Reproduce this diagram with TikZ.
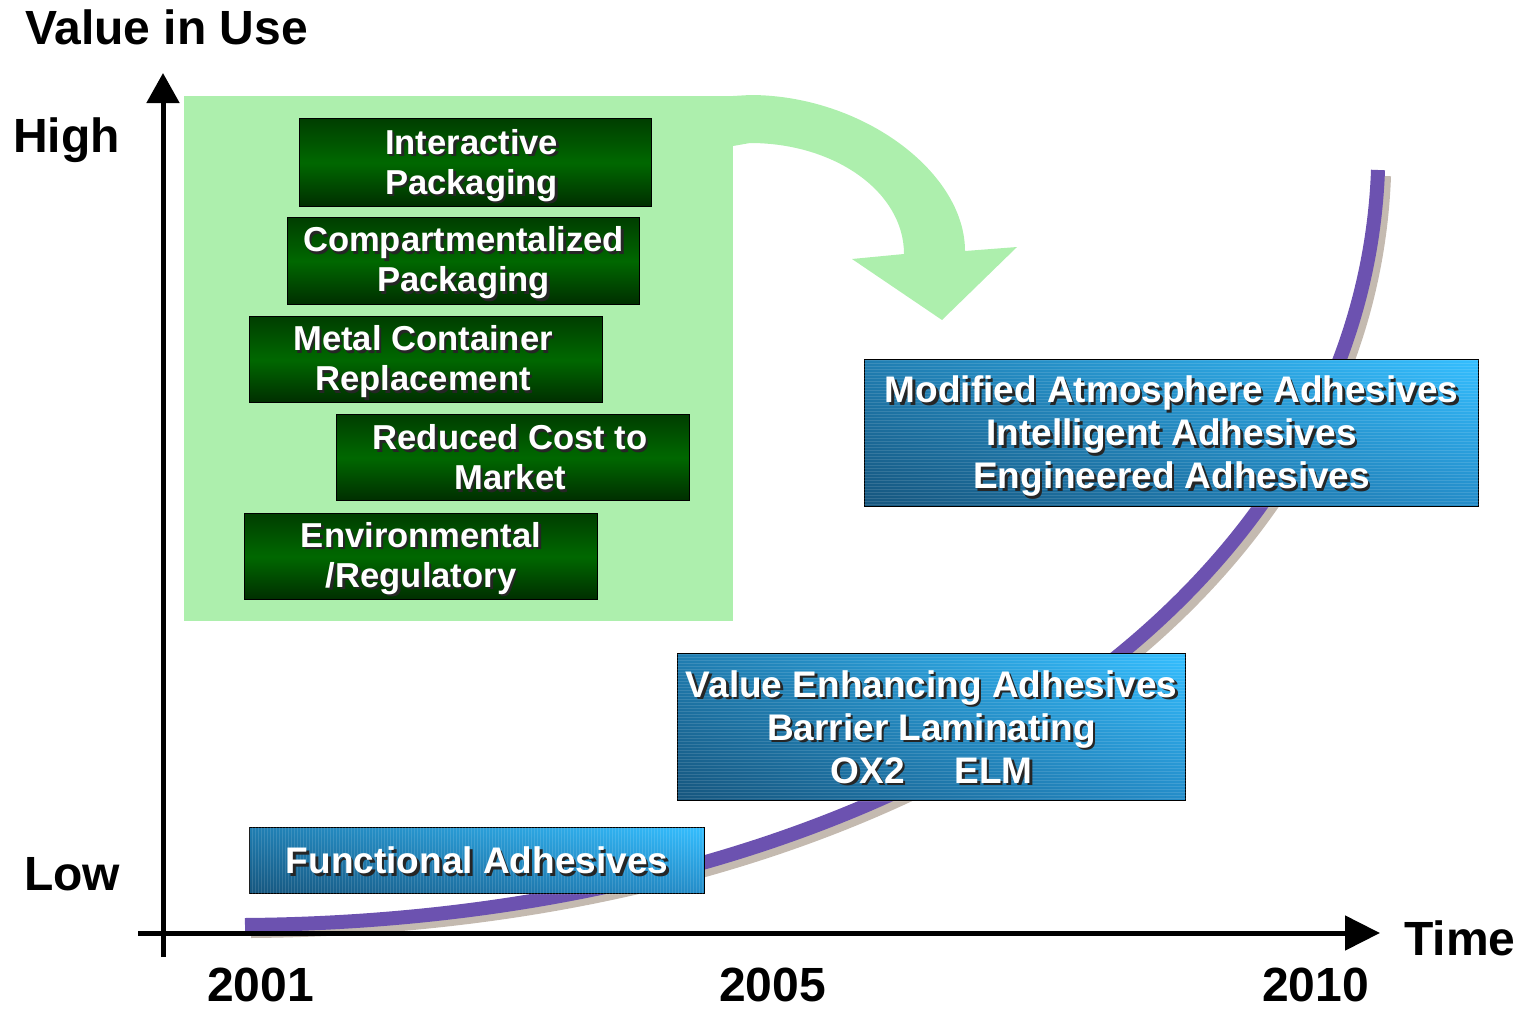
\documentclass[tikz,border=0pt]{standalone}
\usepackage{fontspec}
\setmainfont{Liberation Sans}
\usetikzlibrary{arrows.meta,patterns,shadings}
\definecolor{bggreen}{RGB}{173,239,173}
\definecolor{gtop}{RGB}{0,62,0}
\definecolor{gmid}{RGB}{0,104,0}
\definecolor{gbot}{RGB}{0,46,0}
\definecolor{curvepurple}{RGB}{108,82,176}
\definecolor{curveshadow}{RGB}{196,186,176}
\definecolor{bll}{RGB}{22,86,126}
\definecolor{bul}{RGB}{32,126,178}
\definecolor{blr}{RGB}{36,140,200}
\definecolor{bur}{RGB}{52,190,255}
% #1 options, #2 name, #3 box node, #4 offset, #5 text
\newcommand\shtxt[5][]{%
  \node[boxtext,#1,text=black!85] (#2s) at ([shift={(#4)},shift={(2.5,2.5)}]#3.center) {#5};
  \node[boxtext,#1,text=white] (#2) at ([shift={(#4)}]#3.center) {#5};}
\begin{document}
\begin{tikzpicture}[x=1pt,y=-1pt,
  gbox/.style={draw=black, line width=1.2pt, anchor=north west, inner sep=0pt,
    top color=gtop, bottom color=gbot, middle color=gmid},
  bbox/.style={draw=black, line width=1.2pt, anchor=north west, inner sep=0pt,
    lower left=bll, upper left=bul, lower right=blr, upper right=bur},
  boxtext/.style={align=center, inner sep=0pt, font=\bfseries\fontsize{34.6}{40}\selectfont},
  bluetext/.style={font=\bfseries\fontsize{37}{43}\selectfont},
  axlabel/.style={anchor=base west, inner sep=0pt, font=\bfseries\fontsize{48}{52}\selectfont},
  axis/.style={line width=5pt},
  ]
\useasboundingbox (0,0) rectangle (1529,1009);

% green background and curved arrow
\fill[bggreen] (184,96) rectangle (733,621);
\fill[bggreen] (733,96) -- (750,95) .. controls (862,95) and (965,172) .. (965,251)
  -- (1017,247) -- (942,320) -- (852,259) -- (904,254)
  .. controls (904,192) and (835,143) .. (750,143) -- (733,146) -- cycle;

% growth curve with shadow
\draw[curveshadow, line width=14pt] (251,931) .. controls (900,926) and (1368,606) .. (1384,176);
\draw[curvepurple, line width=14pt] (245,925) .. controls (894,920) and (1362,600) .. (1378,170);

% axes
\coordinate (yb) at (163,957);
\coordinate (yt) at (163,73);
\coordinate (xl) at (138,933);
\coordinate (xr) at (1380,933);
\draw[axis, -{Triangle[length=30pt,width=32pt]}] (yb) -- (yt);
\draw[axis, -{Triangle[length=35pt,width=34pt]}] (xl) -- (xr);

% green boxes
\node[gbox, minimum width=352pt, minimum height=88pt] (ip) at (299,118) {};
\node[gbox, minimum width=352pt, minimum height=87pt] (cp) at (287,217) {};
\node[gbox, minimum width=353pt, minimum height=86pt] (mc) at (249,316) {};
\node[gbox, minimum width=353pt, minimum height=86pt] (rc) at (336,414) {};
\node[gbox, minimum width=353pt, minimum height=86pt] (er) at (244,513) {};
\shtxt{ipt}{ip}{-4,3}{Interactive\\Packaging}
\shtxt{cpt}{cp}{0,2}{Compartmentalized\\Packaging}
\shtxt{mct}{mc}{-3,2}{Metal Container\\Replacement}
\shtxt{rct}{rc}{-3,0}{Reduced Cost to\\Market}
\shtxt{ert}{er}{0,2}{Environmental\\/Regulatory}

% blue boxes
\node[bbox, minimum width=614pt, minimum height=147pt] (ma) at (864,359) {};
\node[bbox, minimum width=508pt, minimum height=147pt] (ve) at (677,653) {};
\node[bbox, minimum width=455pt, minimum height=66pt] (fa) at (249,827) {};
\fill[pattern=horizontal lines, pattern color=white, opacity=0.12] (ma.north west) rectangle (ma.south east);
\fill[pattern=horizontal lines, pattern color=white, opacity=0.12] (ve.north west) rectangle (ve.south east);
\fill[pattern=vertical lines, pattern color=white, opacity=0.12] (fa.north west) rectangle (fa.south east);
\shtxt[bluetext]{mat}{ma}{0,3}{Modified Atmosphere Adhesives\\Intelligent Adhesives\\Engineered Adhesives}
\shtxt[bluetext]{vet}{ve}{0,0}{Value Enhancing Adhesives\\Barrier Laminating\\OX2\hspace{50pt}ELM}
\shtxt[bluetext]{fat}{fa}{0,0}{Functional Adhesives}

% axis labels
\node[axlabel] (viu) at (25,44) {Value in Use};
\node[axlabel] (high) at (13,152) {High};
\node[axlabel] (low) at (24,890) {Low};
\node[axlabel] (time) at (1404,955) {Time};
\node[axlabel] (y1) at (207,1001) {2001};
\node[axlabel] (y2) at (719,1001) {2005};
\node[axlabel] (y3) at (1262,1001) {2010};
\end{tikzpicture}
\end{document}
